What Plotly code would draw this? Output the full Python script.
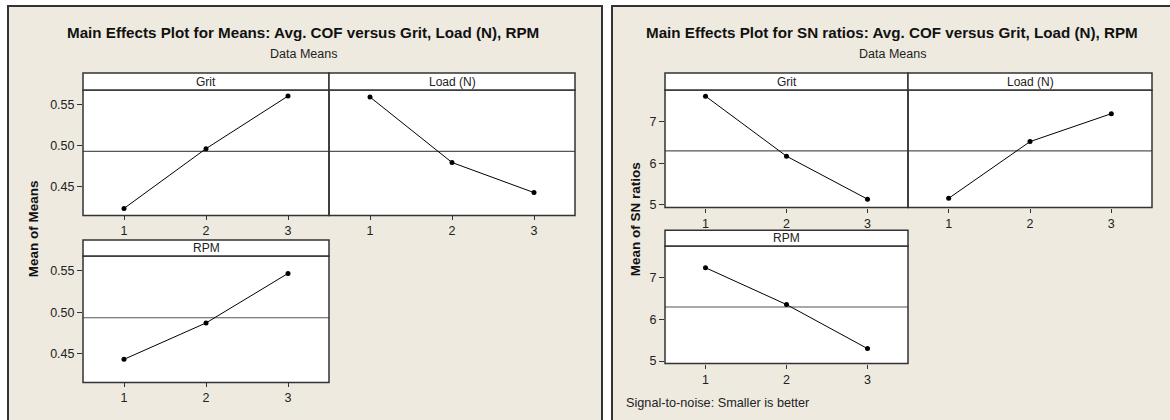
import plotly.graph_objects as go
import numpy as np

W, H = 1170, 420

# ---------------- data ----------------
levels = [1, 2, 3]
factors = ["Grit", "Load (N)", "RPM"]
means_grit = [0.4235, 0.4964, 0.5605]
means_load = [0.5593, 0.4795, 0.4428]
means_rpm = [0.4429, 0.4869, 0.5468]
sn_grit = [7.61, 6.17, 5.14]
sn_load = [5.16, 6.52, 7.19]
sn_rpm = [7.24, 6.357, 5.30]
means_ticks = [0.45, 0.50, 0.55]
means_ticktext = ["0.45", "0.50", "0.55"]
sn_ticks = [5, 6, 7]
sn_ticktext = ["5", "6", "7"]
x_ticktext = ["1", "2", "3"]

means_title = "Main Effects Plot for Means: Avg. COF versus Grit, Load (N), RPM"
sn_title = "Main Effects Plot for SN ratios: Avg. COF versus Grit, Load (N), RPM"
subtitle = "Data Means"
means_ylabel = "Mean of Means"
sn_ylabel = "Mean of SN ratios"
sn_note = "Signal-to-noise: Smaller is better"

grand_means = float(np.mean(means_grit + means_load + means_rpm))
grand_sn = float(np.mean(sn_grit + sn_load + sn_rpm))

# ---------------- layout helpers ----------------
FONT = "Liberation Sans"
BEIGE = "#EEEAE0"
LINE = "#333333"
XRANGE = [0.5, 3.5]


def px(x):
    return x / W


def py(y):
    return 1 - y / H


# (values, factor, x0, x1, strip_top, y_top, y_bottom, yrange, ticks, ticktext, show_y, ref)
panels = [
    (means_grit, factors[0], 83, 329, 74, 91, 218, [0.415, 0.568], means_ticks, means_ticktext, True, grand_means),
    (means_load, factors[1], 329, 575, 74, 91, 218, [0.415, 0.568], means_ticks, means_ticktext, False, grand_means),
    (means_rpm, factors[2], 83, 329, 243, 259, 387, [0.415, 0.568], means_ticks, means_ticktext, True, grand_means),
    (sn_grit, factors[0], 665, 908, 74, 91, 210, [4.94, 7.76], sn_ticks, sn_ticktext, True, grand_sn),
    (sn_load, factors[1], 908, 1152, 74, 91, 210, [4.94, 7.76], sn_ticks, sn_ticktext, False, grand_sn),
    (sn_rpm, factors[2], 665, 908, 233, 249, 368, [4.94, 7.76], sn_ticks, sn_ticktext, True, grand_sn),
]

fig = go.Figure()
shapes = []
annotations = []

# beige figure frames (drawn below everything; page background is white)
shapes.append(dict(type="rect", xref="paper", yref="paper", x0=px(8), x1=px(602), y0=py(432), y1=py(6),
                   fillcolor=BEIGE, line=dict(width=0), layer="below"))
shapes.append(dict(type="rect", xref="paper", yref="paper", x0=px(612), x1=px(1182), y0=py(432), y1=py(6),
                   fillcolor=BEIGE, line=dict(width=0), layer="below"))
# frame borders
shapes.append(dict(type="rect", xref="paper", yref="paper", x0=px(8), x1=px(602), y0=py(432), y1=py(6),
                   fillcolor="rgba(0,0,0,0)", line=dict(color=LINE, width=2), layer="above"))
shapes.append(dict(type="rect", xref="paper", yref="paper", x0=px(612), x1=px(1182), y0=py(432), y1=py(6),
                   fillcolor="rgba(0,0,0,0)", line=dict(color=LINE, width=2), layer="above"))

layout_axes = {}
for i, (vals, fac, x0, x1, st, yt, yb, yr, tv, tt, showy, ref) in enumerate(panels, start=1):
    xa = "x" if i == 1 else f"x{i}"
    ya = "y" if i == 1 else f"y{i}"
    xkey = "xaxis" if i == 1 else f"xaxis{i}"
    ykey = "yaxis" if i == 1 else f"yaxis{i}"
    layout_axes[xkey] = dict(
        domain=[px(x0), px(x1)], anchor=ya, range=XRANGE,
        tickvals=levels, ticktext=x_ticktext, ticks="outside", ticklen=4, tickwidth=1, tickcolor=LINE,
        showline=False, showgrid=False, zeroline=False,
        tickfont=dict(family=FONT, size=12.5, color="#222222"), fixedrange=True,
    )
    layout_axes[ykey] = dict(
        domain=[py(yb), py(yt)], anchor=xa, range=yr,
        tickvals=tv if showy else [], ticktext=tt if showy else [],
        ticks="outside" if showy else "", ticklen=5, tickwidth=1, tickcolor=LINE,
        showticklabels=showy, showline=False, showgrid=False, zeroline=False,
        tickfont=dict(family=FONT, size=12.5, color="#222222"), fixedrange=True,
    )
    # white data area, referenced to the subplot so it is drawn above the beige frame
    shapes.append(dict(type="rect", xref=f"{xa} domain", yref=f"{ya} domain", x0=0, x1=1, y0=0, y1=1,
                       fillcolor="white", line=dict(width=0), layer="below"))
    # panel border
    shapes.append(dict(type="rect", xref="paper", yref="paper", x0=px(x0), x1=px(x1), y0=py(yb), y1=py(yt),
                       fillcolor="rgba(0,0,0,0)", line=dict(color=LINE, width=1.5), layer="above"))
    # strip
    shapes.append(dict(type="rect", xref="paper", yref="paper", x0=px(x0), x1=px(x1), y0=py(yt), y1=py(st),
                       fillcolor="white", line=dict(color=LINE, width=1.5), layer="above"))
    annotations.append(dict(x=px((x0 + x1) / 2), y=py((st + yt) / 2), xref="paper", yref="paper",
                            text=fac, showarrow=False, xanchor="center", yanchor="middle",
                            font=dict(family=FONT, size=12, color="#222222")))
    # reference (grand mean) line across the panel
    fig.add_trace(go.Scatter(x=XRANGE, y=[ref, ref], mode="lines", xaxis=xa, yaxis=ya,
                             line=dict(color="#555555", width=1.2), showlegend=False, hoverinfo="skip"))
    fig.add_trace(go.Scatter(x=levels, y=vals, mode="lines+markers", xaxis=xa, yaxis=ya,
                             line=dict(color="black", width=1),
                             marker=dict(color="black", size=5, symbol="circle"),
                             showlegend=False, hoverinfo="x+y"))

# titles
for cx, t, yl, ylx, ylcy in [(303, means_title, means_ylabel, 33, 232), (892, sn_title, sn_ylabel, 635, 222)]:
    annotations.append(dict(x=px(cx), y=py(33), xref="paper", yref="paper", text=f"<b>{t}</b>",
                            showarrow=False, xanchor="center", yanchor="middle",
                            font=dict(family=FONT, size=15.2, color="#111111")))
    annotations.append(dict(x=px(cx), y=py(55), xref="paper", yref="paper", text=subtitle,
                            showarrow=False, xanchor="center", yanchor="middle",
                            font=dict(family=FONT, size=12.5, color="#222222")))
    annotations.append(dict(x=px(ylx), y=py(ylcy), xref="paper", yref="paper", text=f"<b>{yl}</b>",
                            showarrow=False, xanchor="center", yanchor="middle", textangle=-90,
                            font=dict(family=FONT, size=13.5, color="#111111")))

annotations.append(dict(x=px(624), y=py(408), xref="paper", yref="paper", text=sn_note,
                        showarrow=False, xanchor="left", yanchor="middle",
                        font=dict(family=FONT, size=12.7, color="#222222")))

fig.update_layout(
    width=W, height=H, margin=dict(l=0, r=0, t=0, b=0),
    paper_bgcolor="white", plot_bgcolor="white",
    shapes=shapes, annotations=annotations, showlegend=False,
    **layout_axes,
)

fig.write_html("out.html", config={"displayModeBar": False})
